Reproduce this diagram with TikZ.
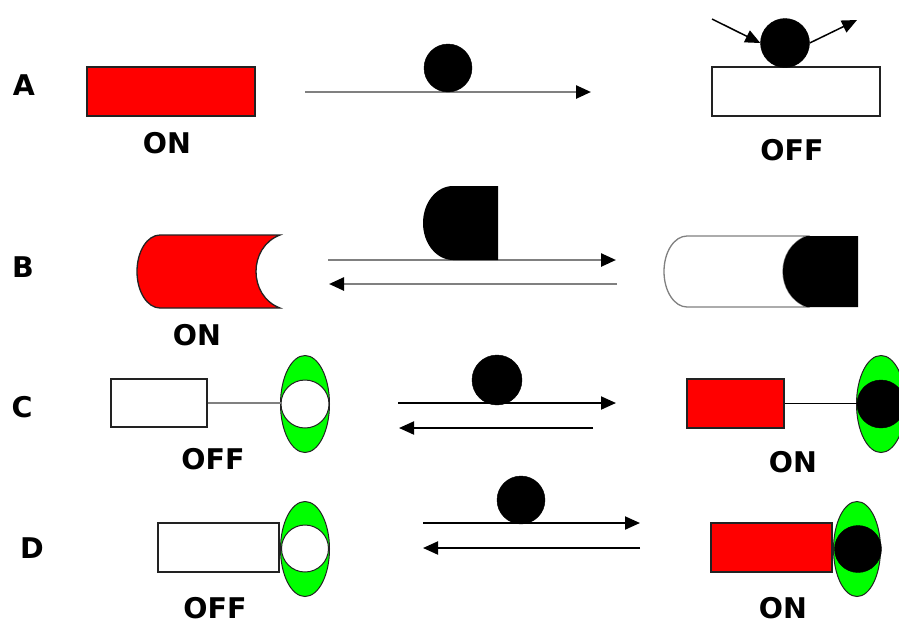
\documentclass[tikz,border=0pt]{standalone}
\usepackage{fontspec}
\setmainfont{DejaVu Sans}
\usetikzlibrary{arrows.meta,shapes.geometric}
\definecolor{onred}{HTML}{FF0000}
\definecolor{ledgreen}{HTML}{00FF00}
\definecolor{linegray}{HTML}{808080}
\definecolor{edge}{HTML}{222222}
\tikzset{
  lbl/.style={font=\fontsize{28.5}{30}\selectfont\bfseries, inner sep=0pt},
  redbox/.style={draw=edge, line width=1.3pt, fill=onred, inner sep=0pt},
  whitebox/.style={draw=edge, line width=1.3pt, fill=white, inner sep=0pt},
  ball/.style={circle, fill=black, draw=black, inner sep=0pt},
  hole/.style={circle, fill=white, draw=edge, line width=1pt, inner sep=0pt},
  led/.style={ellipse, fill=ledgreen, draw=edge, line width=1pt, inner sep=0pt},
  tip/.style={-{Triangle[length=15pt,width=13pt,color=black]}},
  grayarrow/.style={tip, draw=linegray, line width=2.5pt},
  blackarrow/.style={tip, draw=black, line width=2pt},
  thinarrow/.style={tip, draw=black, line width=1.5pt},
}
\begin{document}
\begin{tikzpicture}[x=1pt,y=-1pt]
\useasboundingbox (0,0) rectangle (899,625);
\fill[white] (0,0) rectangle (899,625);
% ---------- Row A ----------
\node[lbl] (labA) at (24,85) {A};
\node[redbox, minimum width=168pt, minimum height=49pt] (a1) at (171,91.5) {};
\node[lbl] (a1t) at (167,143) {ON};
\coordinate (as) at (305,92);
\coordinate (ae) at (591,92);
\draw[grayarrow] (as) -- (ae);
\node[ball, minimum size=48pt] (aball) at (448,68) {};
\node[whitebox, minimum width=168pt, minimum height=49pt] (a2) at (796,91.5) {};
\node[ball, minimum size=49pt] (aball2) at (785,43) {};
\node[lbl] (a2t) at (792,150) {OFF};
\coordinate (ain) at (712,19);
\coordinate (aout) at (857,20);
\draw[thinarrow] (ain) -- (aball2.west);
\draw[thinarrow] (aball2.east) -- (aout);
% ---------- Row B ----------
\node[lbl] (labB) at (23,267) {B};
\path[draw=edge, line width=1.3pt, fill=onred]
  (160,235) -- (280,235) .. controls (248,247) and (248,296) .. (280,308)
  -- (160,308) .. controls (147.3,308) and (137,291.7) .. (137,271.5)
  .. controls (137,251.3) and (147.3,235) .. (160,235) -- cycle;
\node[lbl] (b1t) at (197,335) {ON};
\coordinate (bs1) at (328,260);
\coordinate (be1) at (616,260);
\coordinate (bs2) at (617,284);
\coordinate (be2) at (329,284);
\draw[grayarrow] (bs1) -- (be1);
\draw[grayarrow] (bs2) -- (be2);
\path[fill=black]
  (498,186) -- (453,186) .. controls (436.4,186) and (423,202.6) .. (423,223)
  .. controls (423,243.4) and (436.4,260) .. (453,260) -- (498,260) -- cycle;
\path[draw=linegray, line width=1.3pt, fill=white]
  (687,236) -- (807,236) .. controls (775,248) and (775,295) .. (807,307)
  -- (687,307) .. controls (674.3,307) and (664,291.2) .. (664,271.5)
  .. controls (664,251.8) and (674.3,236) .. (687,236) -- cycle;
\path[fill=black]
  (858,236) -- (807,236) .. controls (775,248) and (775,295) .. (807,307)
  -- (858,307) -- cycle;
% ---------- Row C ----------
\node[lbl] (labC) at (22,407) {C};
\node[whitebox, minimum width=96pt, minimum height=48pt] (c1) at (159,403) {};
\node[led, minimum width=49pt, minimum height=97pt] (c1led) at (305,404) {};
\node[hole, minimum size=48pt] (c1hole) at (305,404) {};
\draw[linegray, line width=2.2pt] (c1.east) -- (c1.east -| c1hole.west);
\node[lbl] (c1t) at (213,459) {OFF};
\coordinate (cs1) at (398,403);
\coordinate (ce1) at (616,403);
\coordinate (cs2) at (593,428);
\coordinate (ce2) at (399,428);
\draw[blackarrow] (cs1) -- (ce1);
\draw[blackarrow] (cs2) -- (ce2);
\node[ball, minimum size=50pt] (cball) at (497,380) {};
\node[redbox, minimum width=97pt, minimum height=49pt] (c2) at (735.5,403.5) {};
\node[led, minimum width=49pt, minimum height=97pt] (c2led) at (881,404) {};
\node[ball, minimum size=48pt] (c2ball) at (881,404) {};
\draw[black, line width=1.6pt] (c2.east) -- (c2.east -| c2ball.west);
\node[lbl] (c2t) at (793,462) {ON};
% ---------- Row D ----------
\node[lbl] (labD) at (32,548) {D};
\node[whitebox, minimum width=121pt, minimum height=49pt] (d1) at (218.5,547.5) {};
\node[led, minimum width=49pt, minimum height=95pt] (d1led) at (305,549) {};
\node[hole, minimum size=47pt] (d1hole) at (305,548.5) {};
\node[lbl] (d1t) at (215,608) {OFF};
\coordinate (ds1) at (423,523);
\coordinate (de1) at (640,523);
\coordinate (ds2) at (640,548);
\coordinate (de2) at (423,548);
\draw[blackarrow] (ds1) -- (de1);
\draw[blackarrow] (ds2) -- (de2);
\node[ball, minimum size=48pt] (dball) at (521,500) {};
\node[redbox, minimum width=121pt, minimum height=49pt] (d2) at (771.5,547.5) {};
\node[led, minimum width=47pt, minimum height=95pt] (d2led) at (857,549) {};
\node[ball, minimum size=47pt] (d2ball) at (858,549) {};
\node[lbl] (d2t) at (783,608) {ON};
\end{tikzpicture}
\end{document}
